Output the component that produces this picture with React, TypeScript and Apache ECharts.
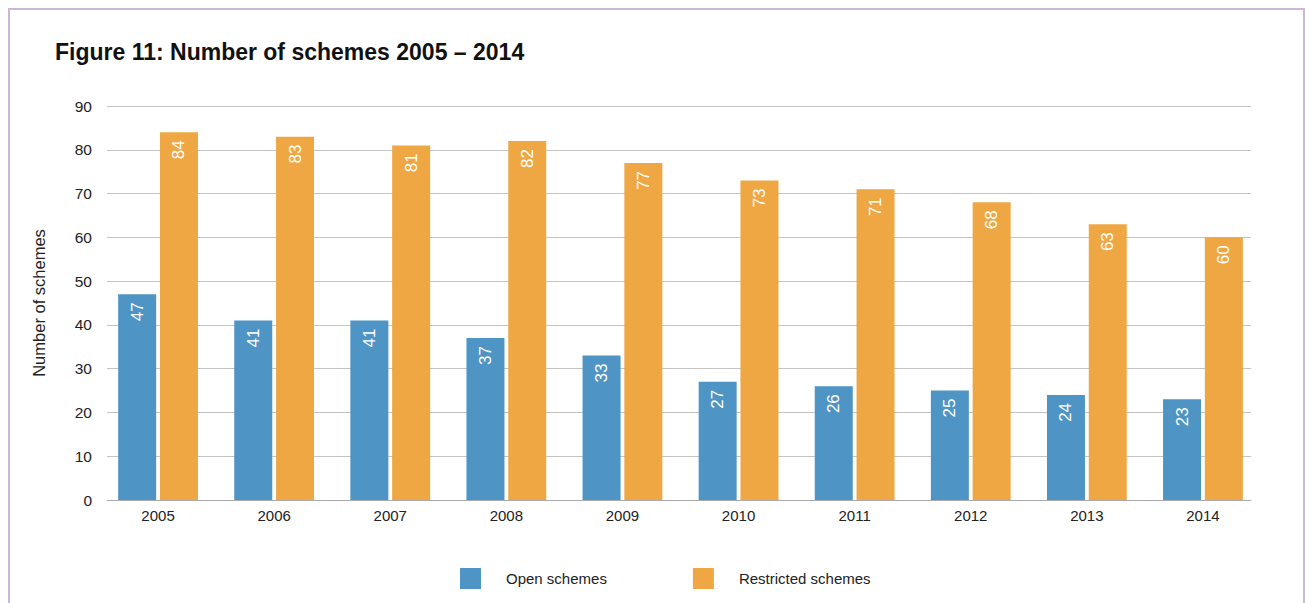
import React, { useEffect, useRef } from "react";
import * as echarts from "echarts";

const years = ["2005", "2006", "2007", "2008", "2009", "2010", "2011", "2012", "2013", "2014"];
const openSchemes = [47, 41, 41, 37, 33, 27, 26, 25, 24, 23];
const restrictedSchemes = [84, 83, 81, 82, 77, 73, 71, 68, 63, 60];
const yTicks = { min: 0, max: 90, interval: 10 };

const FONT = "'Liberation Sans', Arial, sans-serif";

export default function App() {
  const ref = useRef<HTMLDivElement>(null);
  useEffect(() => {
    if (!ref.current) return;
    const chart = echarts.init(ref.current, undefined, { renderer: "svg" });
    const label = {
      show: true,
      position: "insideTop",
      rotate: 90,
      align: "right",
      verticalAlign: "middle",
      distance: 8,
      color: "#ffffff",
      fontSize: 17,
      fontFamily: FONT,
    };
    chart.setOption({
      animation: false,
      backgroundColor: "#ffffff",
      textStyle: { fontFamily: FONT },
      title: {
        text: "Figure 11: Number of schemes 2005 – 2014",
        left: 50,
        top: 35,
        textStyle: {
          fontFamily: "'Liberation Sans Narrow', 'Arial Narrow', 'Liberation Sans', sans-serif",
          fontWeight: "bold",
          fontSize: 23,
          color: "#111111",
        },
      },
      graphic: [
        {
          type: "rect",
          shape: { x: 9, y: 9, width: 1295, height: 620 },
          style: { fill: "none", stroke: "#cbb5d9", lineWidth: 2 },
          silent: true,
        },
      ],
      legend: {
        bottom: 9,
        left: 455,
        itemWidth: 21,
        itemHeight: 21,
        itemGap: 86,
        icon: "rect",
        textStyle: { fontSize: 15, color: "#222222", fontFamily: FONT, padding: [0, 0, 0, 20] },
        data: ["Open schemes", "Restricted schemes"],
      },
      grid: [
        { left: 107, right: 54, top: 106, bottom: 103 },
        { left: 100, right: 44, top: 106, bottom: 103 },
      ],
      xAxis: [
        {
          type: "category",
          gridIndex: 0,
          data: years,
          axisLine: { show: true, lineStyle: { color: "#aaaaaa" } },
          axisTick: { show: false },
          axisLabel: { show: false },
        },
        {
          type: "category",
          gridIndex: 1,
          data: years,
          axisLine: { show: false },
          axisTick: { show: false },
          axisLabel: { fontSize: 15, color: "#222222", margin: 8, fontFamily: FONT },
        },
      ],
      yAxis: [
        {
          type: "value",
          gridIndex: 0,
          min: yTicks.min,
          max: yTicks.max,
          interval: yTicks.interval,
          name: "Number of schemes",
          nameLocation: "middle",
          nameGap: 60,
          nameTextStyle: { fontSize: 16.5, color: "#222222", fontFamily: FONT },
          axisLine: { show: false },
          axisTick: { show: false },
          axisLabel: { fontSize: 15.5, color: "#222222", margin: 15, fontFamily: FONT },
          splitLine: { lineStyle: { color: "#c4c4c4", width: 1 } },
        },
        {
          type: "value",
          gridIndex: 1,
          min: yTicks.min,
          max: yTicks.max,
          interval: yTicks.interval,
          show: false,
          splitLine: { show: false },
        },
      ],
      series: [
        {
          name: "Open schemes",
          type: "bar",
          xAxisIndex: 1,
          yAxisIndex: 1,
          data: openSchemes,
          barWidth: 38,
          barGap: "10%",
          itemStyle: { color: "#4e95c5" },
          label,
        },
        {
          name: "Restricted schemes",
          type: "bar",
          xAxisIndex: 1,
          yAxisIndex: 1,
          data: restrictedSchemes,
          barWidth: 38,
          barGap: "10%",
          itemStyle: { color: "#eea743" },
          label,
        },
      ],
    });
    return () => chart.dispose();
  }, []);
  return (
    <div
      ref={ref}
      style={{ position: "absolute", left: 0, top: 0, width: 1305, height: 603 }}
    />
  );
}
